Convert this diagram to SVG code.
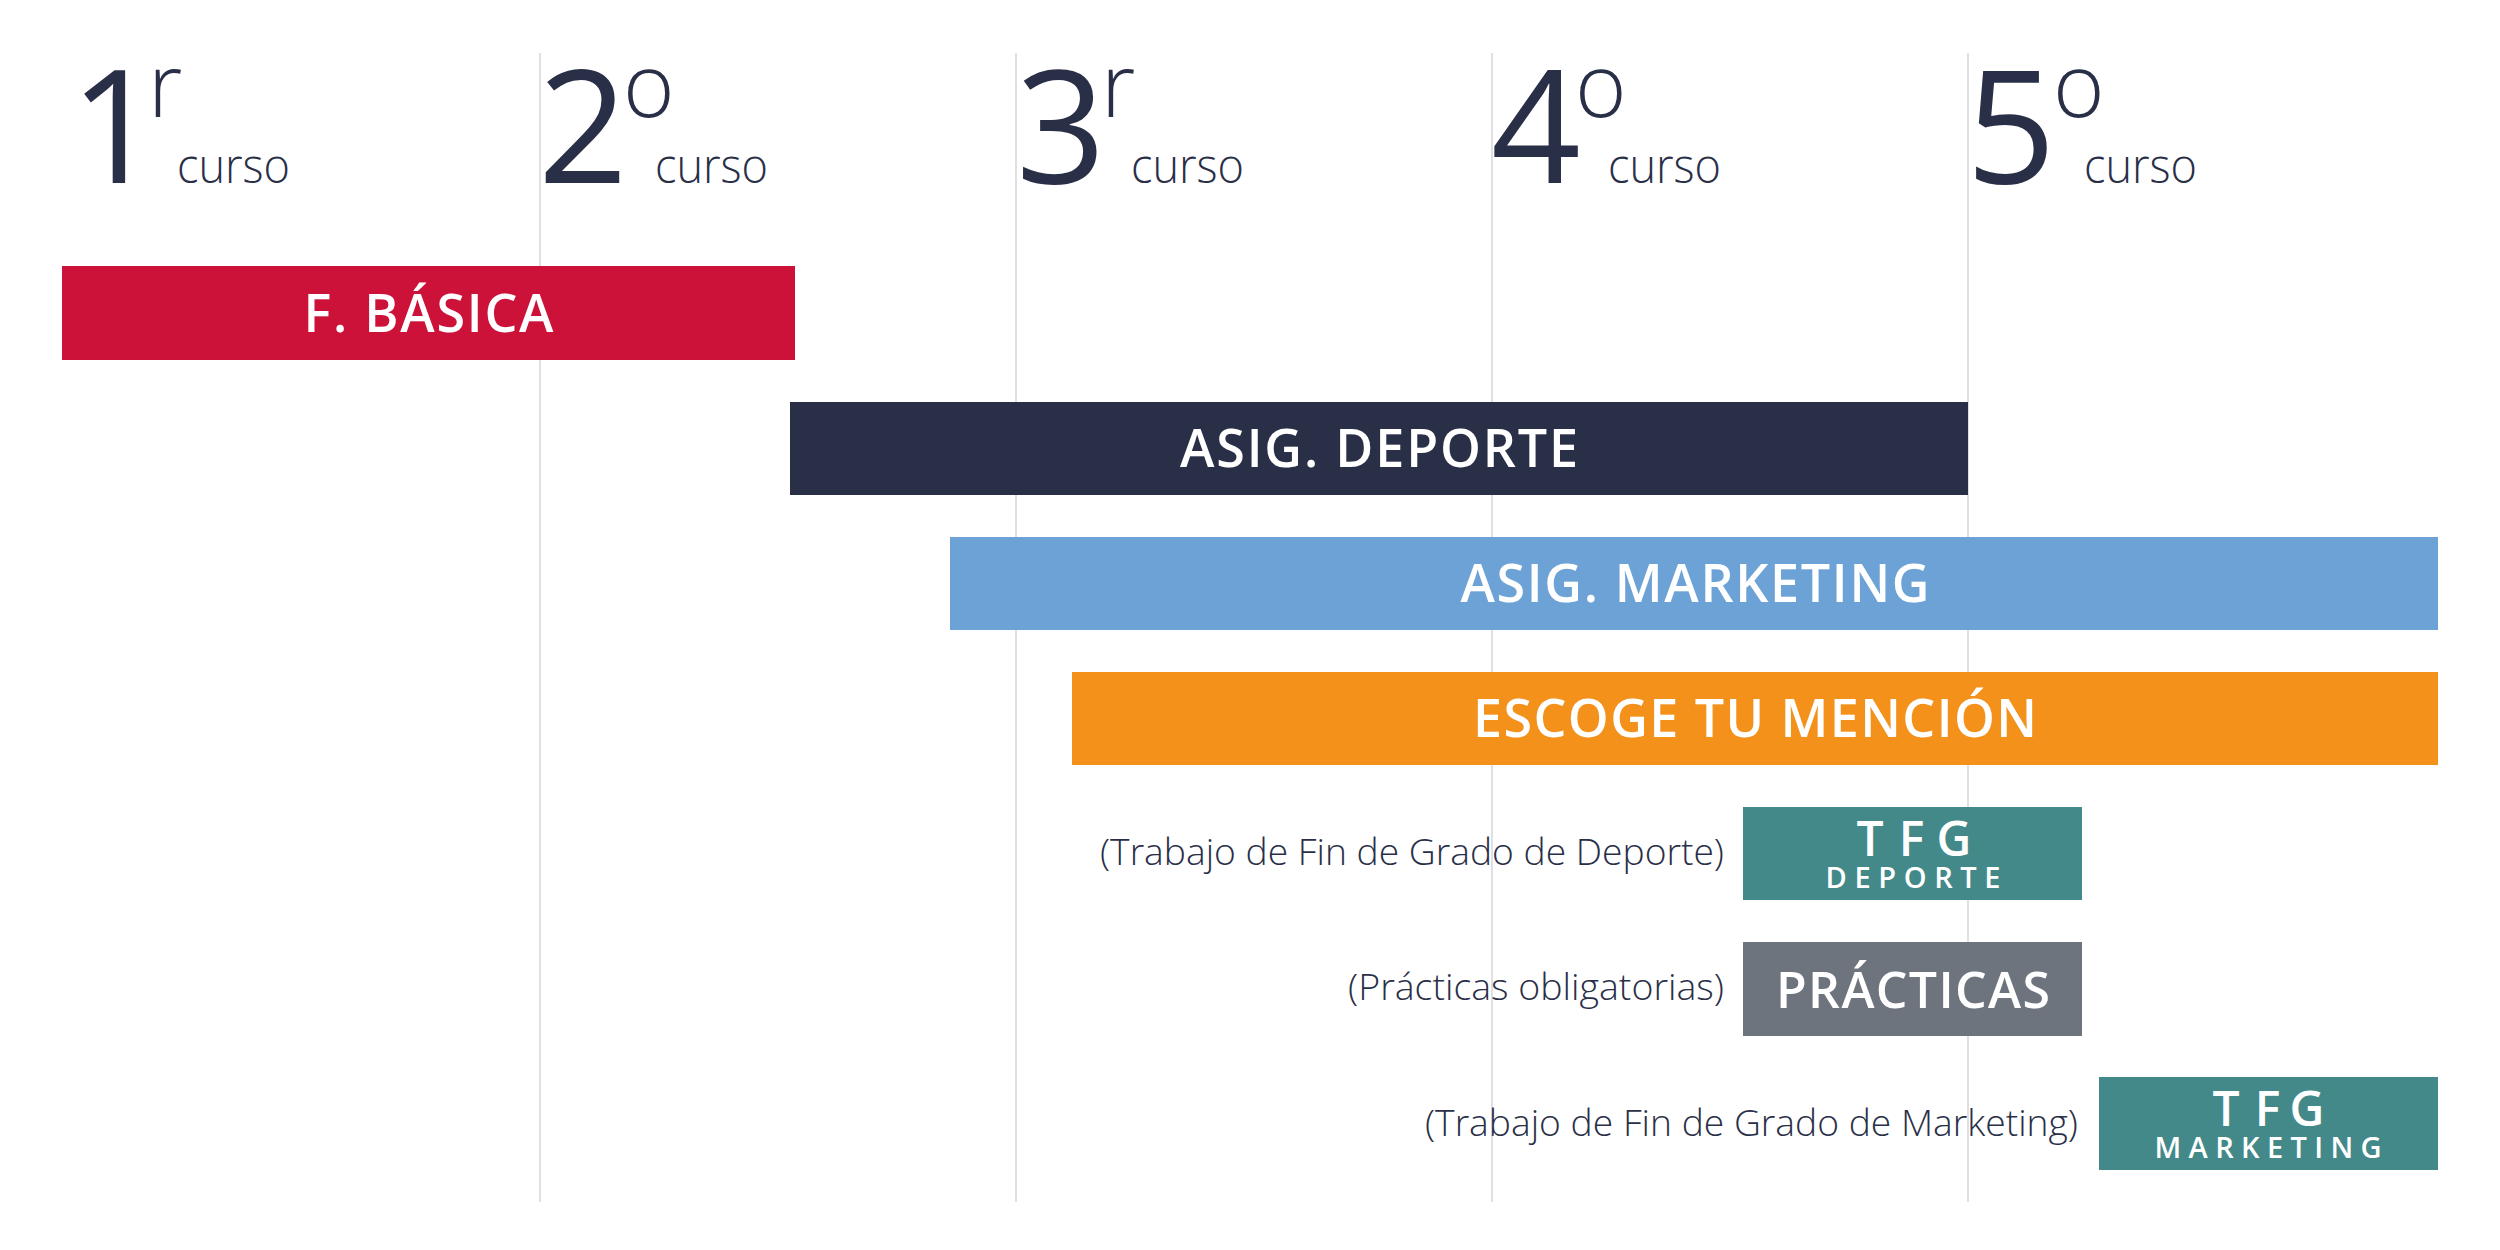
<svg xmlns="http://www.w3.org/2000/svg" width="2500" height="1250" viewBox="0 0 2500 1250">
  <style>
    .grid { stroke: #DFDFE4; stroke-width: 2; }
    .num { font-family: "Open Sans", "Noto Sans", sans-serif; font-size: 157px; font-weight: 400; fill: #2A2F48; }
    .sup { font-family: "Open Sans", "Noto Sans", sans-serif; font-size: 88px; font-weight: 300; fill: #2A2F48; }
    .curso { font-family: "Open Sans", "Noto Sans", sans-serif; font-size: 48px; font-weight: 300; fill: #2A2F48; }
    .bar { font-family: "Open Sans", "Noto Sans", sans-serif; font-size: 52px; font-weight: 600; fill: #FFFFFF; text-anchor: middle; }
    .big { font-family: "Open Sans", "Noto Sans", sans-serif; font-size: 48px; font-weight: 600; fill: #FFFFFF; text-anchor: middle; }
    .small { font-family: "Open Sans", "Noto Sans", sans-serif; font-size: 29px; font-weight: 600; fill: #FFFFFF; text-anchor: middle; }
    .label { font-family: "Open Sans", "Noto Sans", sans-serif; font-size: 37px; font-weight: 300; fill: #2A2F48; text-anchor: end; }
  </style>
  <rect width="2500" height="1250" fill="#FFFFFF"/>

  <g id="gridlines">
    <line class="grid" x1="540" y1="53" x2="540" y2="1202"/>
    <line class="grid" x1="1016" y1="53" x2="1016" y2="1202"/>
    <line class="grid" x1="1492" y1="53" x2="1492" y2="1202"/>
    <line class="grid" x1="1968" y1="53" x2="1968" y2="1202"/>
  </g>

  <g id="headers">
    <g id="curso1">
      <text class="num" x="70" y="183">1</text>
      <text class="sup" x="148" y="117">r</text>
      <text class="curso" x="177" y="183" textLength="113" lengthAdjust="spacingAndGlyphs">curso</text>
    </g>
    <g id="curso2">
      <text class="num" x="538" y="183">2</text>
      <text class="sup" x="623" y="117">o</text>
      <text class="curso" x="655" y="183" textLength="113" lengthAdjust="spacingAndGlyphs">curso</text>
    </g>
    <g id="curso3">
      <text class="num" x="1016" y="183">3</text>
      <text class="sup" x="1101" y="117">r</text>
      <text class="curso" x="1131" y="183" textLength="113" lengthAdjust="spacingAndGlyphs">curso</text>
    </g>
    <g id="curso4">
      <text class="num" x="1491" y="183">4</text>
      <text class="sup" x="1575" y="117">o</text>
      <text class="curso" x="1608" y="183" textLength="113" lengthAdjust="spacingAndGlyphs">curso</text>
    </g>
    <g id="curso5">
      <text class="num" x="1966" y="183">5</text>
      <text class="sup" x="2053" y="117">o</text>
      <text class="curso" x="2084" y="183" textLength="113" lengthAdjust="spacingAndGlyphs">curso</text>
    </g>
  </g>

  <g id="f-basica">
    <rect x="62" y="266" width="733" height="94" fill="#CC1239"/>
    <text class="bar" x="428.5" y="332" textLength="250" lengthAdjust="spacing">F. BÁSICA</text>
  </g>

  <g id="asig-deporte">
    <rect x="790" y="402" width="1178" height="93" fill="#2A2F48"/>
    <text class="bar" x="1379" y="467" textLength="398" lengthAdjust="spacing">ASIG. DEPORTE</text>
  </g>

  <g id="asig-marketing">
    <rect x="950" y="537" width="1488" height="93" fill="#6DA2D6"/>
    <text class="bar" x="1695" y="602" textLength="469" lengthAdjust="spacing">ASIG. MARKETING</text>
  </g>

  <g id="escoge-mencion">
    <rect x="1072" y="672" width="1366" height="93" fill="#F3911B"/>
    <text class="bar" x="1755" y="737" textLength="564" lengthAdjust="spacing">ESCOGE TU MENCIÓN</text>
  </g>

  <g id="tfg-deporte">
    <rect x="1743" y="807" width="339" height="93" fill="#43898A"/>
    <text class="big" x="1870 1911.5 1954" y="856">TFG</text>
    <text class="small" x="1913" y="888" textLength="175" lengthAdjust="spacing">DEPORTE</text>
    <text class="label" x="1724" y="865" textLength="624" lengthAdjust="spacingAndGlyphs">(Trabajo de Fin de Grado de Deporte)</text>
  </g>

  <g id="practicas">
    <rect x="1743" y="942" width="339" height="94" fill="#6D747E"/>
    <text class="bar" x="1913" y="1008" style="font-size:50px" textLength="274" lengthAdjust="spacing">PRÁCTICAS</text>
    <text class="label" x="1724" y="1000" textLength="376" lengthAdjust="spacingAndGlyphs">(Prácticas obligatorias)</text>
  </g>

  <g id="tfg-marketing">
    <rect x="2099" y="1077" width="339" height="93" fill="#43898A"/>
    <text class="big" x="2226 2267.5 2307" y="1126">TFG</text>
    <text class="small" x="2268" y="1158" textLength="227" lengthAdjust="spacing">MARKETING</text>
    <text class="label" x="2078" y="1136" textLength="653" lengthAdjust="spacingAndGlyphs">(Trabajo de Fin de Grado de Marketing)</text>
  </g>
</svg>
